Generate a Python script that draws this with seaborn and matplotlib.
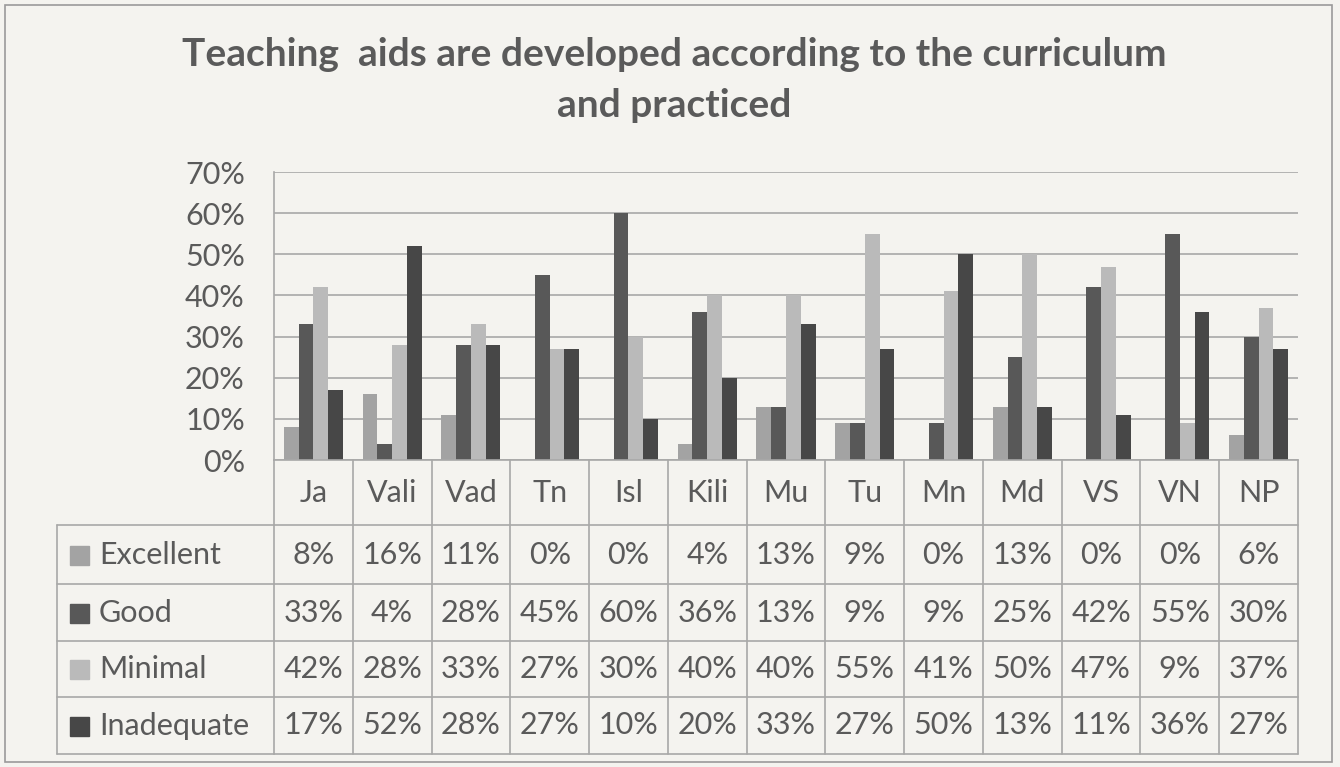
import matplotlib
matplotlib.use("Agg")
import matplotlib.pyplot as plt
import matplotlib.transforms as mtransforms
from matplotlib.lines import Line2D
from matplotlib.patches import Rectangle
import seaborn as sns
import pandas as pd
import numpy as np

categories = ["Ja", "Vali", "Vad", "Tn", "Isl", "Kili", "Mu", "Tu", "Mn", "Md", "VS", "VN", "NP"]
series = ["Excellent", "Good", "Minimal", "Inadequate"]
excellent = [8, 16, 11, 0, 0, 4, 13, 9, 0, 13, 0, 0, 6]
good = [33, 4, 28, 45, 60, 36, 13, 9, 9, 25, 42, 55, 30]
minimal = [42, 28, 33, 27, 30, 40, 40, 55, 41, 50, 47, 9, 37]
inadequate = [17, 52, 28, 27, 10, 20, 33, 27, 50, 13, 11, 36, 27]
yticks = [0, 10, 20, 30, 40, 50, 60, 70]
title = "Teaching  aids are developed according to the curriculum\nand practiced"

values = {"Excellent": excellent, "Good": good, "Minimal": minimal, "Inadequate": inadequate}
df = pd.DataFrame([
    {"cat": c, "series": s, "val": values[s][i]}
    for s in series for i, c in enumerate(categories)
])

colors = {"Excellent": "#a3a3a3", "Good": "#585858", "Minimal": "#bababa", "Inadequate": "#474747"}
bg = "#f4f3ef"
txt = "#5a5a5a"
linec = "#a8a8a8"
fs = 22

sns.set_theme(style="white")
plt.rcParams["font.family"] = ["Lato", "DejaVu Sans"]

W, H = 1340, 767
fig = plt.figure(figsize=(W / 100, H / 100), dpi=100, facecolor=bg)
ax = fig.add_axes([274 / W, 1 - 460 / H, (1298 - 274) / W, (460 - 172) / H])
ax.set_facecolor(bg)

sns.barplot(data=df, x="cat", y="val", hue="series", hue_order=series, order=categories,
            palette=colors, width=0.75, gap=0, saturation=1, ax=ax, legend=False,
            edgecolor="none", linewidth=0)

ax.set_xlim(-0.5, len(categories) - 0.5)
ax.set_ylim(0, 70)
ax.set_yticks(yticks)
ax.set_yticklabels([f"{t}%" for t in yticks], fontsize=fs, color=txt)
ax.tick_params(axis="y", length=0, pad=21)
ax.set_xticks([])
ax.set_xlabel("")
ax.set_ylabel("")
ax.yaxis.grid(True, color=linec, linewidth=1.2)
ax.set_axisbelow(True)
for sp in ["top", "right"]:
    ax.spines[sp].set_visible(False)
for sp in ["left", "bottom"]:
    ax.spines[sp].set_color(linec)
    ax.spines[sp].set_linewidth(1.2)

fig.suptitle(title, x=674 / W, y=1 - 37 / H, fontsize=28, fontweight="bold", color=txt,
             linespacing=1.55, va="top")

# Data table
def fy(px):
    return 1 - px / H

trans = mtransforms.blended_transform_factory(ax.transData, fig.transFigure)
row_edges = [460, 525, 584, 641, 697, 754]
n = len(categories)
xl, xr = -0.5, n - 0.5
left_fig = 57 / W
ax_left_fig = 274 / W

for k in range(n + 1):
    ax.add_line(Line2D([xl + k, xl + k], [fy(row_edges[0]), fy(row_edges[-1])], transform=trans,
                       color=linec, lw=1.2, clip_on=False))
for r in row_edges[1:]:
    ax.add_line(Line2D([xl, xr], [fy(r), fy(r)], transform=trans, color=linec, lw=1.2, clip_on=False))
    fig.add_artist(Line2D([left_fig, ax_left_fig], [fy(r), fy(r)], color=linec, lw=1.2))
fig.add_artist(Line2D([left_fig, left_fig], [fy(row_edges[1]), fy(row_edges[-1])], color=linec, lw=1.2))

hc = (row_edges[0] + row_edges[1]) / 2
for i, c in enumerate(categories):
    ax.text(i, fy(hc), c, transform=trans, ha="center", va="center", fontsize=fs, color=txt)

for j, s in enumerate(series):
    yc = (row_edges[j + 1] + row_edges[j + 2]) / 2
    fig.add_artist(Rectangle((70 / W, fy(yc) - 10 / H), 19 / W, 19 / H, color=colors[s],
                             transform=fig.transFigure))
    fig.text(99 / W, fy(yc), s, ha="left", va="center", fontsize=fs, color=txt)
    for i, v in enumerate(values[s]):
        ax.text(i, fy(yc), f"{v}%", transform=trans, ha="center", va="center", fontsize=fs, color=txt)

fig.add_artist(Rectangle((5 / W, 5 / H), 1327 / W, 757 / H, fill=False, edgecolor="#9a9a9a",
                         lw=1.2, transform=fig.transFigure))

fig.savefig("out.png", dpi=100, facecolor=bg)
